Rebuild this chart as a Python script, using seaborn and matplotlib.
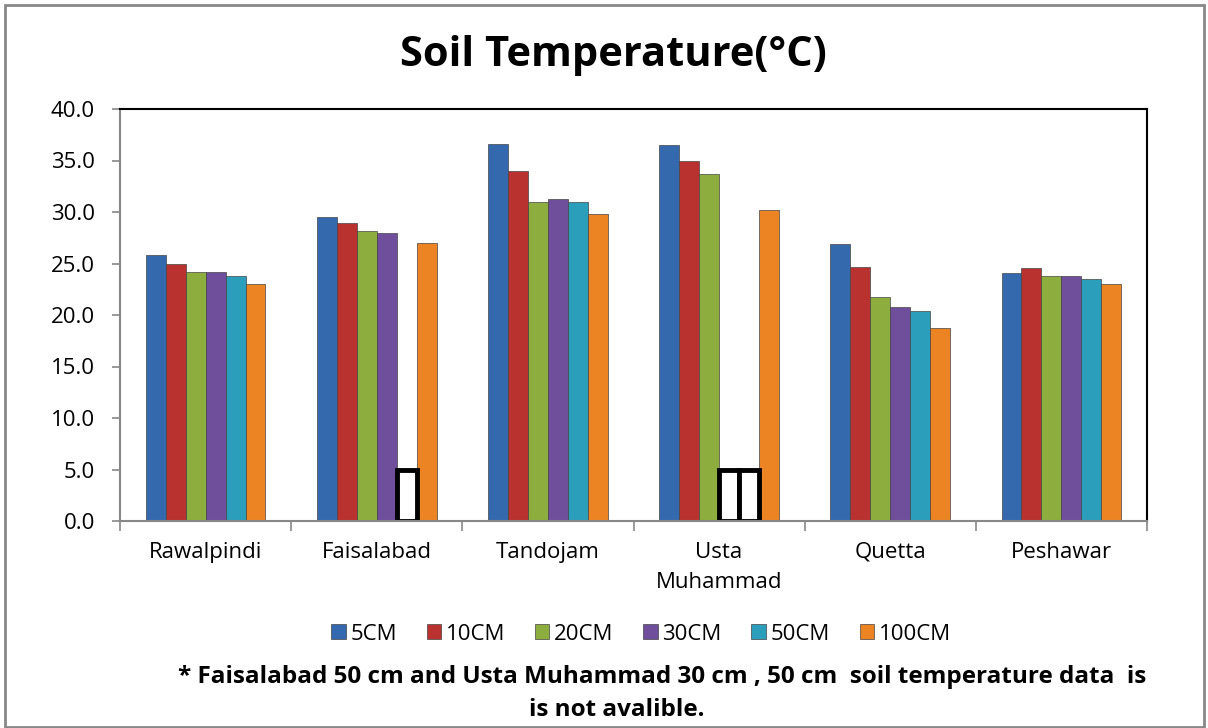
import numpy as np
import pandas as pd
import matplotlib
matplotlib.use('Agg')
import matplotlib.pyplot as plt
import seaborn as sns

stations = ['Rawalpindi', 'Faisalabad', 'Tandojam', 'Usta\nMuhammad', 'Quetta', 'Peshawar']
depths = ['5CM', '10CM', '20CM', '30CM', '50CM', '100CM']
t_5cm = [25.8, 29.5, 36.6, 36.5, 26.9, 24.1]
t_10cm = [25.0, 28.9, 34.0, 35.0, 24.7, 24.6]
t_20cm = [24.2, 28.2, 31.0, 33.7, 21.7, 23.8]
t_30cm = [24.2, 28.0, 31.3, np.nan, 20.8, 23.8]
t_50cm = [23.8, np.nan, 31.0, np.nan, 20.4, 23.5]
t_100cm = [23.0, 27.0, 29.8, 30.2, 18.7, 23.0]
missing_mark = 5.0  # height of the "no data" box

colors = ['#3569AE', '#BA3230', '#8DAE3F', '#6F4E9B', '#2B9EBB', '#EC8423']

sns.set_style('white')
plt.rcParams['font.family'] = ['Open Sans', 'DejaVu Sans']
plt.rcParams['text.color'] = 'black'
plt.rcParams['xtick.labelcolor'] = 'black'
plt.rcParams['ytick.labelcolor'] = 'black'

series = [t_5cm, t_10cm, t_20cm, t_30cm, t_50cm, t_100cm]
rows = []
for d, vals in zip(depths, series):
    for s, v in zip(stations, vals):
        rows.append({'station': s, 'depth': d, 'temp': v})
df = pd.DataFrame(rows)
missing = df[df['temp'].isna()].copy()
missing['temp'] = missing_mark
df = df.dropna()

fig = plt.figure(figsize=(12.08, 7.28), dpi=100)
ax = fig.add_axes([120 / 1208, 1 - 521 / 728, 1027 / 1208, 412 / 728])

sns.barplot(data=df, x='station', y='temp', hue='depth', order=stations,
            hue_order=depths, palette=colors, width=0.7, gap=0, saturation=1,
            errorbar=None, edgecolor='#444444', linewidth=0.5, ax=ax)
handles, labels = ax.get_legend_handles_labels()
ax.get_legend().remove()

sns.barplot(data=missing, x='station', y='temp', hue='depth', order=stations,
            hue_order=depths, palette={d: 'white' for d in depths}, width=0.7,
            gap=0, saturation=1, errorbar=None, edgecolor='black',
            linewidth=3.5, legend=False, ax=ax)

ax.set_ylim(0, 40)
ax.set_xlim(-0.5, 5.5)
ax.set_yticks(np.arange(0, 41, 5))
ax.set_yticklabels([f'{v:.1f}' for v in np.arange(0, 41, 5)], fontsize=16)
ax.set_xticks(np.arange(-0.5, 6, 1))
ax.set_xticklabels([])
ax.set_xticks(np.arange(6), minor=True)
ax.set_xticklabels(stations, minor=True, fontsize=16, linespacing=1.55, va='top')
ax.tick_params(axis='x', which='major', length=7, width=1.2, color='#888888', direction='out', bottom=True)
ax.tick_params(axis='x', which='minor', length=0, pad=15)
ax.tick_params(axis='y', length=6, width=1.2, color='#888888', direction='out', left=True, pad=12)
ax.set_xlabel('')
ax.set_ylabel('')

for side in ['left', 'bottom']:
    ax.spines[side].set_color('#888888')
    ax.spines[side].set_linewidth(1.5)
for side in ['top', 'right']:
    ax.spines[side].set_color('black')
    ax.spines[side].set_linewidth(1.5)

fig.text(613 / 1208, 1 - 66 / 728, 'Soil Temperature(°C)', ha='center',
         va='baseline', fontsize=30, fontweight='bold')

fig.legend(handles, labels, loc='center', bbox_to_anchor=(641 / 1208, 1 - 634 / 728),
           ncol=6, frameon=False, fontsize=16, handlelength=0.65, handleheight=0.65,
           handletextpad=0.2, columnspacing=1.35)

fig.text(662 / 1208, 1 - 677 / 728,
         '* Faisalabad 50 cm and Usta Muhammad 30 cm , 50 cm  soil temperature data  is',
         ha='center', va='center', fontsize=17.5, fontweight='bold')
fig.text(617 / 1208, 1 - 710 / 728, 'is not avalible.', ha='center', va='center',
         fontsize=17.5, fontweight='bold')

fig.patches.append(plt.Rectangle((5 / 1208, 1 / 728), 1199 / 1208, 722 / 728,
                                 transform=fig.transFigure, fill=False,
                                 edgecolor='#888888', linewidth=2))

fig.savefig('out.png', dpi=100)
